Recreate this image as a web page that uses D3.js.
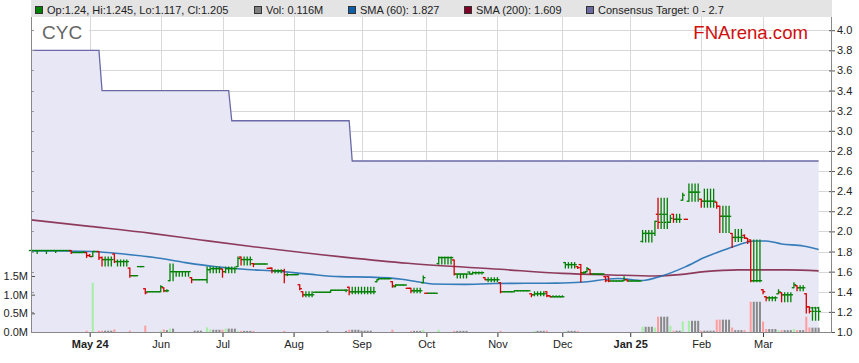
<!DOCTYPE html>
<html>
<head>
<meta charset="utf-8">
<script src="https://cdn.jsdelivr.net/npm/d3@7"></script>
<style>
  body { margin: 0; background: #fff; }
  svg { font-family: Arial, "Liberation Sans", sans-serif; }
</style>
</head>
<body>
<div id="chart"></div>
<script>
var width = 859;
var height = 363;
var plotLeft = 31, plotRight = 831, plotTop = 17, plotBottom = 332;

// weekdays from 4 Apr 2024 to 27 Mar 2025, one row per day: [open, high, low, close] or a single flat price
var startDate = new Date(2024, 3, 4);
var endDate = new Date(2025, 2, 28);

var ohlc = [
  1.81, 1.81, [1.81,1.81,1.78,1.81], 1.81, 1.81,
  [1.81,1.81,1.78,1.81], 1.81, 1.81, [1.81,1.81,1.79,1.81], 1.81,
  1.81, 1.81, 1.81, [1.81,1.81,1.78,1.79], 1.79,
  1.79, 1.79, [1.79,1.80,1.79,1.79], [1.79,1.79,1.74,1.76], [1.76,1.77,1.75,1.75],
  [1.75,1.80,1.75,1.80], 1.80, [1.80,1.80,1.72,1.74], [1.74,1.745,1.655,1.72], [1.72,1.745,1.655,1.72],
  [1.72,1.745,1.655,1.72], [1.72,1.745,1.655,1.72], [1.775,1.775,1.69,1.70], [1.70,1.716,1.656,1.70], [1.70,1.716,1.656,1.70],
  [1.70,1.716,1.656,1.70], [1.70,1.716,1.656,1.70], [1.635,1.635,1.545,1.56], 1.56, 1.56,
  1.65, 1.65, [1.43,1.43,1.38,1.39], 1.40, 1.40,
  1.40, 1.40, [1.40,1.46,1.40,1.45], [1.44,1.44,1.40,1.41], [1.41,1.42,1.40,1.41],
  [1.51,1.676,1.51,1.60], [1.60,1.676,1.51,1.60], [1.60,1.60,1.555,1.60], [1.60,1.60,1.555,1.60], [1.60,1.60,1.555,1.60],
  [1.60,1.60,1.555,1.60], [1.60,1.60,1.555,1.60], [1.54,1.54,1.49,1.52], 1.52, 1.52,
  1.52, 1.52, [1.52,1.645,1.49,1.62], [1.62,1.645,1.59,1.63], [1.63,1.645,1.59,1.63],
  [1.63,1.645,1.59,1.63], [1.63,1.645,1.59,1.63], [1.625,1.625,1.545,1.60], [1.60,1.645,1.59,1.63], [1.63,1.645,1.59,1.63],
  [1.63,1.645,1.59,1.63], [1.63,1.645,1.59,1.63], [1.65,1.745,1.65,1.73], [1.745,1.745,1.665,1.72], [1.72,1.745,1.665,1.72],
  [1.72,1.745,1.665,1.72], [1.72,1.745,1.665,1.72], [1.68,1.68,1.65,1.675], 1.676, 1.676,
  1.676, 1.676, 1.633, [1.635,1.635,1.59,1.61], [1.61,1.62,1.59,1.61],
  [1.61,1.62,1.59,1.61], [1.61,1.62,1.59,1.61], [1.61,1.625,1.49,1.57], [1.57,1.58,1.56,1.57], 1.57,
  1.57, 1.57, [1.47,1.47,1.42,1.43], [1.40,1.40,1.35,1.37], [1.37,1.40,1.35,1.37],
  [1.37,1.40,1.35,1.37], [1.37,1.40,1.35,1.37], 1.395, 1.395, 1.395,
  1.395, 1.395, [1.395,1.415,1.395,1.415], 1.415, 1.415,
  1.415, 1.415, [1.415,1.42,1.40,1.415], [1.445,1.445,1.37,1.40], [1.40,1.445,1.38,1.40],
  [1.40,1.445,1.38,1.40], [1.40,1.445,1.38,1.40], [1.40,1.445,1.38,1.40], [1.40,1.445,1.38,1.40], [1.40,1.445,1.38,1.40],
  [1.40,1.445,1.38,1.40], [1.40,1.445,1.38,1.40], [1.50,1.52,1.50,1.52], 1.53, 1.53,
  1.53, 1.53, [1.50,1.50,1.445,1.46], [1.45,1.47,1.45,1.467], 1.467,
  1.467, 1.467, 1.434, [1.434,1.434,1.39,1.41], [1.41,1.434,1.39,1.41],
  [1.41,1.434,1.39,1.41], [1.41,1.434,1.39,1.41], [1.49,1.556,1.49,1.54], 1.385, 1.385,
  1.385, 1.385, [1.68,1.746,1.676,1.74], [1.74,1.746,1.676,1.74], [1.74,1.746,1.676,1.74],
  [1.74,1.746,1.676,1.74], [1.74,1.746,1.676,1.74], [1.716,1.716,1.567,1.576], [1.576,1.576,1.537,1.576], [1.576,1.576,1.537,1.576],
  [1.576,1.576,1.537,1.576], [1.576,1.576,1.537,1.576], [1.596,1.596,1.576,1.576], [1.576,1.596,1.576,1.59], [1.59,1.596,1.576,1.59],
  [1.59,1.596,1.576,1.59], [1.59,1.596,1.576,1.59], [1.54,1.54,1.52,1.52], [1.52,1.54,1.50,1.52], [1.52,1.54,1.50,1.52],
  [1.52,1.54,1.50,1.52], [1.52,1.54,1.50,1.52], [1.49,1.49,1.39,1.40], 1.40, 1.40,
  1.40, 1.40, 1.41, 1.41, 1.41,
  1.41, 1.41, [1.38,1.38,1.35,1.37], [1.37,1.40,1.36,1.38], [1.38,1.40,1.36,1.38],
  [1.38,1.40,1.36,1.38], [1.38,1.40,1.36,1.38], [1.40,1.40,1.35,1.36], [1.36,1.36,1.35,1.35], [1.35,1.36,1.35,1.35],
  [1.35,1.36,1.35,1.35], [1.35,1.36,1.35,1.35], [1.35,1.36,1.35,1.35], [1.69,1.69,1.636,1.67], [1.67,1.69,1.636,1.67],
  [1.67,1.69,1.636,1.67], [1.67,1.69,1.636,1.67], [1.65,1.65,1.63,1.64], [1.67,1.67,1.50,1.59], [1.59,1.60,1.58,1.59],
  [1.60,1.64,1.60,1.63], [1.62,1.62,1.577,1.577], 1.577, 1.577, 1.577,
  1.577, [1.55,1.55,1.50,1.51], [1.55,1.55,1.50,1.507], 1.507, 1.507,
  1.507, 1.507, [1.51,1.55,1.51,1.52], [1.52,1.52,1.507,1.507], 1.507,
  1.507, 1.507, 1.507, [1.90,2.01,1.895,1.98], [1.98,2.01,1.895,1.98],
  [1.98,2.01,1.895,1.98], [1.98,2.01,1.895,1.98], [1.98,2.10,1.96,2.10], [2.17,2.33,2.03,2.09], [2.17,2.33,2.03,2.09],
  [2.17,2.33,2.03,2.09], [2.17,2.33,2.03,2.09], [2.09,2.16,2.09,2.13], [2.17,2.17,2.09,2.12], [2.12,2.17,2.09,2.12],
  [2.12,2.17,2.09,2.12], [2.31,2.38,2.31,2.36], 2.12, [2.30,2.47,2.30,2.39], [2.39,2.47,2.30,2.39],
  [2.39,2.47,2.30,2.39], [2.39,2.47,2.30,2.39], [2.32,2.32,2.24,2.30], [2.30,2.42,2.24,2.30], [2.30,2.42,2.24,2.30],
  [2.30,2.42,2.24,2.30], [2.30,2.42,2.24,2.30], [2.29,2.29,2.23,2.25], [2.25,2.25,1.99,2.15], [2.15,2.25,1.99,2.15],
  [2.15,2.25,1.99,2.15], [2.15,2.25,1.99,2.15], [1.98,1.98,1.84,1.94], [1.94,2.02,1.90,1.94], [1.94,2.02,1.90,1.94],
  [1.94,2.02,1.90,1.94], [1.96,1.965,1.93,1.935], [1.93,1.93,1.88,1.90], [1.915,1.915,1.50,1.51], [1.51,1.915,1.50,1.51],
  [1.51,1.915,1.50,1.51], [1.51,1.915,1.50,1.51], [1.42,1.42,1.38,1.40], [1.35,1.35,1.31,1.34], [1.34,1.35,1.31,1.34],
  [1.34,1.35,1.31,1.34], [1.34,1.35,1.31,1.34], [1.38,1.42,1.38,1.40], [1.39,1.39,1.30,1.37], [1.37,1.39,1.30,1.37],
  [1.37,1.39,1.30,1.37], [1.37,1.39,1.30,1.37], [1.44,1.49,1.44,1.47], [1.46,1.46,1.41,1.44], [1.44,1.46,1.41,1.44],
  [1.44,1.46,1.41,1.44], [1.38,1.38,1.19,1.25], [1.25,1.25,1.19,1.205], [1.24,1.245,1.117,1.205], [1.24,1.245,1.117,1.205],
  [1.24,1.245,1.117,1.205]
];

// daily volume in millions
var volumes = [
  0,0,0,0,0,0,0,0,0,0,
  0,0,0,0,0,0,0,0,0.035,0,
  1.32,0,0.035,0.035,0.035,0.035,0.035,0.07,0,0,
  0,0,0.035,0,0,0,0,0.17,0,0,
  0,0,0.035,0.07,0.05,0.09,0.09,0,0,0,
  0,0,0,0.035,0.035,0.035,0,0.125,0.07,0.06,
  0.06,0.06,0.06,0.09,0.09,0.09,0.09,0.03,0.03,0.03,
  0.03,0.03,0.03,0,0,0,0,0,0,0,
  0,0,0.03,0,0,0,0,0,0,0,
  0,0,0,0,0,0,0.035,0,0,0,
  0,0,0.03,0.06,0.06,0.06,0.06,0.035,0.035,0.035,
  0.035,0,0,0,0,0,0,0.06,0,0,
  0,0,0,0.03,0.03,0.03,0.03,0.06,0,0,
  0,0,0.06,0,0,0,0,0.03,0.03,0.03,
  0.03,0.03,0,0,0,0,0,0,0,0,
  0,0,0.03,0,0,0,0,0,0,0,
  0,0,0,0.03,0.03,0.03,0.03,0.04,0,0,
  0,0,0,0.02,0.03,0.03,0.03,0.03,0,0,
  0,0,0,0,0,0,0,0,0,0,
  0,0,0,0,0,0,0,0,0.14,0.14,
  0.14,0.14,0.12,0.41,0.41,0.41,0.41,0.17,0.035,0.035,
  0.035,0.28,0,0.30,0.30,0.30,0.30,0.035,0.035,0.035,
  0.035,0.035,0.33,0.33,0.33,0.33,0.33,0.12,0.05,0.05,
  0.05,0.05,0,0.81,0.81,0.81,0.81,0.28,0.08,0.08,
  0.08,0.08,0.05,0.05,0.05,0.05,0.05,0.08,0.05,0.05,
  0.05,0.41,0.12,0.116,0.116,0.116
];

// moving averages read at a few day positions: [day index, value]
var sma60 = [[0,1.805],[10,1.805],[20,1.80],[30,1.775],[40,1.74],[50,1.69],[60,1.648],[70,1.622],
  [80,1.605],[90,1.575],[100,1.55],[110,1.545],[120,1.525],[125,1.50],[130,1.477],[140,1.473],
  [150,1.482],[160,1.484],[170,1.486],[178,1.494],[190,1.532],[198,1.512],[204,1.555],[212,1.65],
  [218,1.74],[223,1.80],[229,1.865],[234,1.905],[238,1.905],[243,1.875],[250,1.855],[255,1.82]];
var sma200 = [[0,2.115],[19,2.05],[39,1.98],[55,1.915],[72,1.848],[102,1.742],[122,1.683],[152,1.623],
  [172,1.583],[188,1.567],[202,1.557],[210,1.57],[218,1.60],[229,1.618],[245,1.618],[255,1.608]];

// consensus target steps
var targetValues = [3.8, 3.4, 3.1, 2.7];
var targetFrom = ["2024-04-04", "2024-05-07", "2024-07-04", "2024-08-28"];

var monthLabels = ["May 24", "Jun", "Jul", "Aug", "Sep", "Oct", "Nov", "Dec", "Jan 25", "Feb", "Mar"];
var priceTicks = [1.0, 1.2, 1.4, 1.6, 1.8, 2.0, 2.2, 2.4, 2.6, 2.8, 3.0, 3.2, 3.4, 3.6, 3.8, 4.0];
var volumeTicks = [0, 0.5, 1.0, 1.5];

var legendItems = [
  {label: "Op:1.24, Hi:1.245, Lo:1.117, Cl:1.205", color: "#008000", x: 35},
  {label: "Vol: 0.116M", color: "#808080", x: 254},
  {label: "SMA (60): 1.827", color: "#0c5fa8", x: 348},
  {label: "SMA (200): 1.609", color: "#800026", x: 464},
  {label: "Consensus Target: 0 - 2.7", color: "#6a6aa0", x: 586}
];

var green = "#008000", red = "#d40000";
var volGreen = "#a3f0a3", volRed = "#ff9c9c", volGray = "#8a8a8a";

var days = d3.timeDay.range(startDate, endDate).filter(d => d.getDay() !== 0 && d.getDay() !== 6);
var fmt = d3.timeFormat("%Y-%m-%d");
var targetIdx = targetFrom.map(s => days.findIndex(d => fmt(d) === s));

var bars = ohlc.map(function(r, k) {
  var v = typeof r === "number" ? [r, r, r, r] : r;
  return {k: k, date: days[k], open: v[0], high: v[1], low: v[2], close: v[3], volume: volumes[k]};
});
bars.forEach(function(d, k) {
  d.prev = k ? bars[k - 1].close : d.close;
  d.target = targetValues[d3.bisectRight(targetIdx, k) - 1];
});

var monthTicks = [];
days.forEach(function(d, k) {
  if (k > 0 && d.getMonth() !== days[k - 1].getMonth()) monthTicks.push(k);
});

/* Scales */
var x = d3.scaleLinear().domain([0, 259]).range([plotLeft, plotRight]);
var y = d3.scaleLinear().domain([1, 4]).range([plotBottom, 30.2]);
var yVol = d3.scaleLinear().domain([0, 1.5]).range([plotBottom, 276]);

var svg = d3.select("#chart").append("svg")
  .attr("width", width)
  .attr("height", height);

/* Legend band */
svg.append("rect")
  .attr("x", plotLeft).attr("y", 0)
  .attr("width", plotRight - plotLeft + 1).attr("height", plotTop)
  .attr("fill", "#e4e4e4");

/* Grid */
var grid = svg.append("g").attr("shape-rendering", "crispEdges").attr("stroke", "#d8d8d8");
grid.selectAll(".h").data(priceTicks.slice(1)).enter().append("line")
  .attr("x1", plotLeft).attr("x2", plotRight)
  .attr("y1", d => Math.round(y(d)) + 0.5).attr("y2", d => Math.round(y(d)) + 0.5);
grid.selectAll(".v").data(monthTicks).enter().append("line")
  .attr("x1", d => Math.round(x(d)) + 0.5).attr("x2", d => Math.round(x(d)) + 0.5)
  .attr("y1", plotTop).attr("y2", plotBottom);

/* Title box */
svg.append("rect")
  .attr("x", plotLeft + 1).attr("y", plotTop + 1)
  .attr("width", 57).attr("height", 31)
  .attr("fill", "#fff");
svg.append("text")
  .attr("x", 42).attr("y", 39)
  .attr("font-size", "19px")
  .attr("fill", "#666")
  .text("CYC");
svg.append("text")
  .attr("x", 808).attr("y", 39)
  .attr("text-anchor", "end")
  .attr("font-size", "18.6px")
  .attr("fill", "#d11010")
  .text("FNArena.com");

/* Consensus target */
svg.append("path")
  .datum(bars)
  .attr("fill", "#e7e7f6")
  .attr("d", d3.area().x(d => x(d.k)).y0(plotBottom).y1(d => y(d.target)));
svg.append("path")
  .datum(bars)
  .attr("fill", "none")
  .attr("stroke", "#6a6aa6")
  .attr("stroke-width", 1.3)
  .attr("d", d3.line().x(d => x(d.k)).y(d => y(d.target)));

/* Volume */
svg.append("g")
  .selectAll("rect")
  .data(bars.filter(d => d.volume > 0)).enter()
  .append("rect")
  .attr("x", d => x(d.k) - 1)
  .attr("width", 2)
  .attr("y", d => yVol(d.volume))
  .attr("height", d => plotBottom - yVol(d.volume))
  .attr("fill", d => d.close > d.prev ? volGreen : d.close < d.prev ? volRed : volGray);

/* Moving averages */
var smaLine = d3.line().x(d => x(d[0])).y(d => y(d[1])).curve(d3.curveMonotoneX);
svg.append("path").datum(sma200)
  .attr("fill", "none").attr("stroke", "#7e1c40").attr("stroke-width", 1.6).attr("stroke-opacity", 0.85)
  .attr("d", smaLine);
svg.append("path").datum(sma60)
  .attr("fill", "none").attr("stroke", "#2170b2").attr("stroke-width", 1.6).attr("stroke-opacity", 0.9)
  .attr("d", smaLine);

/* OHLC bars */
var bar = svg.append("g")
  .selectAll("g")
  .data(bars).enter()
  .append("g")
  .attr("stroke", d => d.close < d.prev ? red : green)
  .attr("stroke-width", 1.3);
bar.append("line")
  .attr("x1", d => x(d.k)).attr("x2", d => x(d.k))
  .attr("y1", d => y(d.high) - 0.5).attr("y2", d => y(d.low) + 0.5);
bar.append("line")
  .attr("x1", d => x(d.k) - 2.2).attr("x2", d => x(d.k))
  .attr("y1", d => y(d.open)).attr("y2", d => y(d.open));
bar.append("line")
  .attr("x1", d => x(d.k)).attr("x2", d => x(d.k) + 2.2)
  .attr("y1", d => y(d.close)).attr("y2", d => y(d.close));

/* Axes */
var xAxis = d3.axisBottom(x)
  .tickValues(monthTicks)
  .tickFormat((d, i) => monthLabels[i])
  .tickSize(5)
  .tickPadding(3);
var gx = svg.append("g")
  .attr("transform", `translate(0, ${plotBottom})`)
  .call(xAxis);
gx.select(".domain").remove();
gx.selectAll(".tick line").attr("stroke", "#333");
gx.selectAll(".tick text")
  .attr("font-size", "11px")
  .attr("fill", "#222")
  .attr("font-weight", (d, i) => monthLabels[i].indexOf(" ") > 0 ? "bold" : "normal");

var yAxis = d3.axisRight(y)
  .tickValues(priceTicks)
  .tickFormat(d3.format(".1f"))
  .tickSize(4)
  .tickPadding(2);
var gy = svg.append("g")
  .attr("transform", `translate(${plotRight}, 0)`)
  .call(yAxis);
gy.select(".domain").remove();
gy.selectAll(".tick line").attr("stroke", "#555").attr("x1", -2);
gy.selectAll(".tick text").attr("font-size", "11px").attr("fill", "#222");

var volAxis = d3.axisLeft(yVol)
  .tickValues(volumeTicks)
  .tickFormat(d => d.toFixed(1) + "M")
  .tickSize(-4)
  .tickPadding(3);
var gv = svg.append("g")
  .attr("transform", `translate(${plotLeft}, 0)`)
  .call(volAxis);
gv.select(".domain").remove();
gv.selectAll(".tick line").attr("stroke", "#555");
gv.selectAll(".tick text").attr("font-size", "11px").attr("fill", "#222");

/* small inner marks on the left edge at each price level */
svg.append("g").attr("stroke", "#999").attr("shape-rendering", "crispEdges")
  .selectAll("line").data(priceTicks.slice(1)).enter().append("line")
  .attr("x1", plotLeft).attr("x2", plotLeft + 3)
  .attr("y1", d => Math.round(y(d)) + 0.5).attr("y2", d => Math.round(y(d)) + 0.5);

/* Plot frame */
var frame = svg.append("g").attr("stroke", "#888").attr("shape-rendering", "crispEdges");
frame.append("line").attr("x1", plotLeft + 0.5).attr("x2", plotLeft + 0.5).attr("y1", plotTop).attr("y2", plotBottom + 1);
frame.append("line").attr("x1", plotRight + 0.5).attr("x2", plotRight + 0.5).attr("y1", plotTop).attr("y2", plotBottom + 1);
frame.append("line").attr("x1", plotLeft).attr("x2", plotRight + 1).attr("y1", plotBottom + 0.5).attr("y2", plotBottom + 0.5);

/* Legend */
var legend = svg.append("g");
legendItems.forEach(function(item) {
  legend.append("rect")
    .attr("x", item.x + 0.5).attr("y", 6.5)
    .attr("width", 7).attr("height", 7)
    .attr("fill", item.color)
    .attr("stroke", "#333").attr("stroke-width", 1);
  legend.append("text")
    .attr("x", item.x + 12).attr("y", 13.5)
    .attr("font-size", "11px")
    .attr("fill", "#222")
    .text(item.label);
});
</script>
</body>
</html>
